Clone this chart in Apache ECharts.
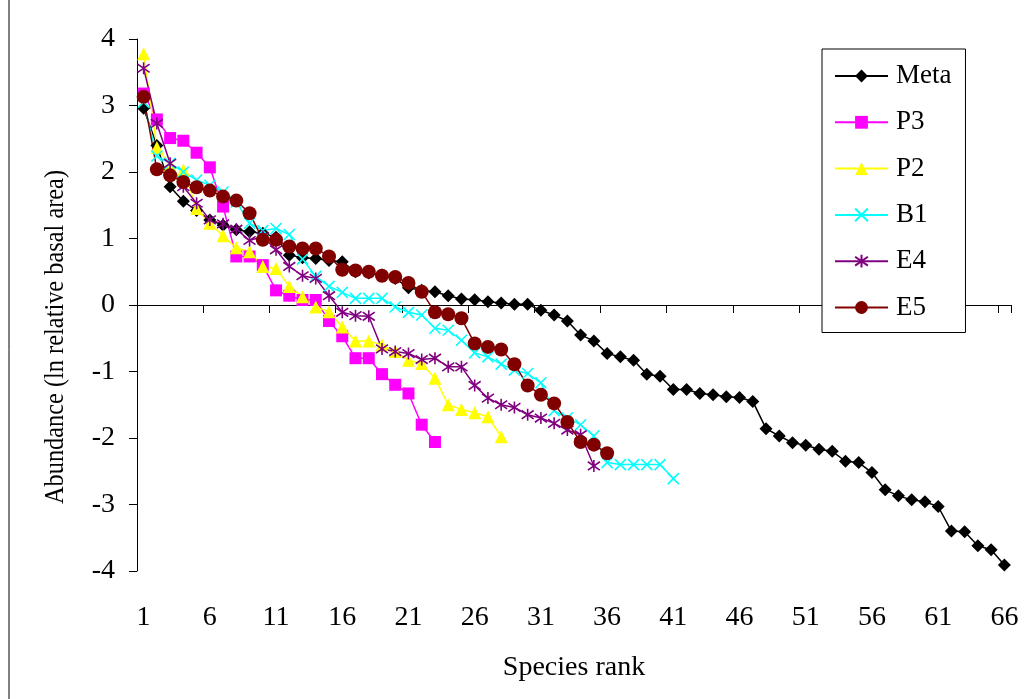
<!DOCTYPE html>
<html><head><meta charset="utf-8">
<script src="https://cdn.jsdelivr.net/npm/echarts@6/dist/echarts.min.js"></script>
<style>html,body{margin:0;padding:0;background:#fff}#c{width:1034px;height:699px}</style>
</head><body><div id="c"></div><script>
const ranks = ['1','2','3','4','5','6','7','8','9','10','11','12','13','14','15','16','17','18','19','20','21','22','23','24','25','26','27','28','29','30','31','32','33','34','35','36','37','38','39','40','41','42','43','44','45','46','47','48','49','50','51','52','53','54','55','56','57','58','59','60','61','62','63','64','65','66'];
const yTicks = [-4,-3,-2,-1,0,1,2,3,4];
const meta = [2.96,2.4,1.78,1.56,1.42,1.28,1.2,1.13,1.1,1.08,1.02,0.75,0.71,0.7,0.67,0.65,0.5,0.48,0.45,0.4,0.26,0.22,0.2,0.14,0.09,0.08,0.05,0.03,0.01,0.01,-0.08,-0.15,-0.24,-0.45,-0.54,-0.73,-0.78,-0.83,-1.04,-1.07,-1.27,-1.27,-1.33,-1.35,-1.38,-1.39,-1.45,-1.86,-1.97,-2.07,-2.11,-2.17,-2.2,-2.35,-2.37,-2.52,-2.78,-2.87,-2.93,-2.96,-3.03,-3.4,-3.41,-3.62,-3.68,-3.91];
const p3 = [3.18,2.79,2.51,2.47,2.29,2.07,1.48,0.73,0.73,0.6,0.22,0.14,0.075,0.075,-0.24,-0.47,-0.8,-0.8,-1.04,-1.2,-1.33,-1.8,-2.06];
const p2 = [3.78,2.37,2.1,2.03,1.45,1.23,1.04,0.86,0.8,0.58,0.55,0.28,0.125,-0.03,-0.1,-0.33,-0.54,-0.54,-0.6,-0.7,-0.83,-0.88,-1.1,-1.5,-1.57,-1.62,-1.68,-1.98];
const b1 = [3.05,2.24,2.13,2.0,1.88,1.8,1.7,1.55,1.23,1.12,1.15,1.06,0.69,0.43,0.28,0.19,0.1,0.1,0.1,-0.03,-0.11,-0.15,-0.35,-0.38,-0.53,-0.72,-0.78,-0.89,-0.98,-1.03,-1.17,-1.59,-1.7,-1.8,-1.97,-2.37,-2.4,-2.4,-2.4,-2.4,-2.61];
const e4 = [3.56,2.73,2.13,1.78,1.53,1.28,1.22,1.14,0.97,1.03,0.83,0.58,0.44,0.4,0.14,-0.11,-0.16,-0.17,-0.66,-0.7,-0.73,-0.82,-0.8,-0.93,-0.93,-1.21,-1.4,-1.5,-1.54,-1.65,-1.7,-1.78,-1.88,-1.95,-2.42];
const e5 = [3.13,2.04,1.95,1.85,1.77,1.72,1.63,1.57,1.38,0.98,0.98,0.88,0.85,0.85,0.73,0.53,0.52,0.5,0.44,0.42,0.33,0.2,-0.11,-0.14,-0.2,-0.58,-0.63,-0.67,-0.89,-1.21,-1.35,-1.48,-1.76,-2.06,-2.1,-2.23];

const FONT = '"Liberation Serif","Times New Roman",serif';
const chart = echarts.init(document.getElementById('c'), null, {renderer:'canvas'});

function mk(name, data, color, symbol, size, stroked) {
  return {
    name: name, type: 'line', data: data,
    symbol: symbol, symbolSize: size, showAllSymbol: true,
    lineStyle: {color: color, width: 1.5},
    itemStyle: stroked ? {color: color, borderColor: color, borderWidth: 1.6} : {color: color, borderWidth: 0},
    emphasis: {disabled: true}
  };
}

const option = {
  animation: false,
  backgroundColor: '#ffffff',
  graphic: [{
    type: 'rect', z: -1, silent: true,
    shape: {x: 9, y: -5, width: 1040, height: 720},
    style: {fill: 'none', stroke: '#000', lineWidth: 1}
  }, {
    type: 'text', silent: true,
    x: 56, y: 337, rotation: Math.PI / 2, scaleX: 0.87,
    style: {text: 'Abundance (ln relative basal area)', fontFamily: FONT, fontSize: 28, fill: '#000', align: 'center', verticalAlign: 'middle'}
  }],
  grid: {left: 137, right: 23, top: 39, bottom: 128},
  xAxis: {
    type: 'category', data: ranks, boundaryGap: true,
    name: 'Species rank', nameLocation: 'middle', nameGap: 83,
    nameTextStyle: {fontFamily: FONT, fontSize: 28, color: '#000'},
    axisLine: {show: true, lineStyle: {color: '#000', width: 1}},
    axisTick: {show: true, interval: 4, length: 8, lineStyle: {color: '#000'}},
    axisLabel: {interval: 4, margin: 33, fontFamily: FONT, fontSize: 28, color: '#000'},
    splitLine: {show: false}
  },
  yAxis: {
    type: 'value', min: yTicks[0], max: yTicks[yTicks.length-1], interval: 1,
    axisLine: {show: true, lineStyle: {color: '#000', width: 1}},
    axisTick: {show: true, length: 8, lineStyle: {color: '#000'}},
    axisLabel: {margin: 22, fontFamily: FONT, fontSize: 28, color: '#000'},
    splitLine: {show: false}
  },
  legend: {
    orient: 'vertical', left: 822, top: 49,
    padding: [13, 14, 11, 12],
    itemWidth: 53, itemHeight: 16, itemGap: 18.3,
    borderColor: '#000', borderWidth: 1, backgroundColor: '#fff',
    textStyle: {fontFamily: FONT, fontSize: 27, color: '#000', lineHeight: 28, padding: [0, 0, 0, 3]},
    data: ['Meta', 'P3', 'P2', 'B1', 'E4', 'E5']
  },
  series: [
    mk('Meta', meta, '#000000', 'diamond', 13, false),
    mk('P3', p3, '#FF00FF', 'rect', 12, false),
    mk('P2', p2, '#FFFF00', 'triangle', 13, false),
    mk('B1', b1, '#00FFFF', 'path://M0,0L10,10M10,0L0,10', 11, true),
    mk('E4', e4, '#800080', 'path://M5,0L5,10M0,1.5L10,8.5M10,1.5L0,8.5', 12, true),
    mk('E5', e5, '#800000', 'circle', 14, false)
  ]
};
chart.setOption(option);
</script></body></html>
